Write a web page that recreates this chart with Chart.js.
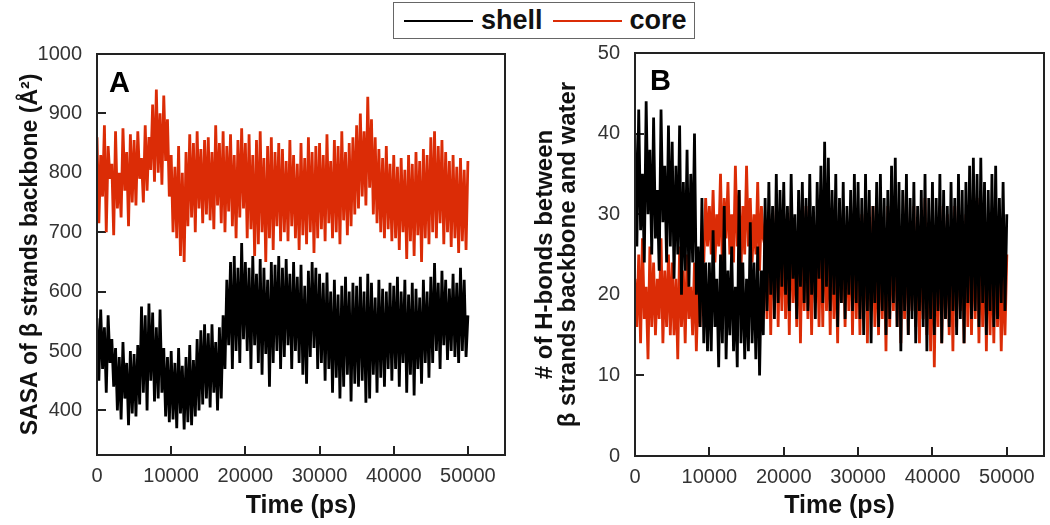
<!DOCTYPE html>
<html>
<head>
<meta charset="utf-8">
<script src="https://cdn.jsdelivr.net/npm/chart.js@4.4.1/dist/chart.umd.min.js"></script>
<style>
  body { margin: 0; background: #fff; font-family: 'Liberation Sans', Arial, sans-serif; }
  #wrap { position: relative; width: 1050px; height: 525px; overflow: hidden; }
  canvas { position: absolute; top: 0; }
  #chartA { left: 0; }
  #chartB { left: 520px; }
  #legend {
    position: absolute; left: 393px; top: 2px; width: 302px; height: 37px;
    border: 1.5px solid #666; box-sizing: border-box; background: #fff;
    display: flex; align-items: center; font-weight: bold; font-size: 27px; color: #111;
  }
  #legend .sw { display: inline-block; width: 69px; height: 0; border-top: 2px solid; margin: 0 8px 0 10px; }
  .panel { position: absolute; font-weight: bold; font-size: 29px; color: #000; line-height: 1; }
</style>
</head>
<body>
<div id="wrap">
  <canvas id="chartA" width="520" height="525"></canvas>
  <canvas id="chartB" width="530" height="525"></canvas>
  <div id="legend">
    <span class="sw" style="border-color:#000"></span><span>shell</span>
    <span class="sw" style="border-color:#db2c06"></span><span>core</span>
  </div>
  <div class="panel" style="left:109px; top:68px;">A</div>
  <div class="panel" style="left:650px; top:66px;">B</div>
</div>
<script>
// sample spacing of the trajectory (ps)
const timeStep = 250;

// x tick labels (both panels)
const timeTicks = [0, 10000, 20000, 30000, 40000, 50000];
// y tick labels
const sasaTicks = [400, 500, 600, 700, 800, 900, 1000];
const hbondTicks = [0, 10, 20, 30, 40, 50];

// panel A : SASA of beta strands backbone
const shellSasa = [
  555,450,570,470,540,430,560,480,520,440,505,400,490,385,515,420,480,375,500,395,
  495,390,510,410,575,430,560,400,580,450,565,415,540,420,570,430,505,390,490,380,
  500,385,480,370,505,395,475,368,490,380,510,375,485,390,520,400,535,410,545,420,
  530,405,545,430,515,400,540,420,560,470,620,510,650,470,660,500,640,480,682,520,
  650,500,640,470,660,510,630,480,655,460,640,495,620,440,650,480,645,500,660,470,
  640,490,655,510,630,470,650,500,625,480,645,460,610,445,635,490,650,505,640,470,
  630,480,615,450,632,470,600,430,620,455,595,420,610,440,625,460,600,415,615,445,
  610,440,625,450,600,413,630,420,615,460,590,430,620,455,605,440,600,470,615,450,
  610,470,625,440,600,480,620,430,595,460,615,425,605,470,590,445,620,480,600,455,
  625,480,648,500,615,470,635,510,620,485,605,500,630,490,615,480,640,500,620,490,
  560
];
const coreSasa = [
  860,715,830,760,880,700,845,790,815,695,870,740,800,725,875,770,835,710,865,750,
  855,745,870,790,825,750,880,770,860,805,915,785,940,800,900,780,930,820,890,760,
  830,700,810,690,845,660,800,650,835,710,865,725,850,700,870,740,840,715,855,730,
  860,720,835,705,880,745,850,715,870,700,845,735,865,710,830,690,855,725,875,740,
  850,690,865,705,830,660,855,680,870,700,825,650,845,690,860,670,835,710,850,685,
  840,700,820,685,855,710,830,690,815,670,850,695,825,680,860,700,835,665,845,690,
  850,705,830,685,865,715,820,690,855,700,845,680,870,720,835,695,850,710,860,730,
  880,740,900,760,870,745,928,775,890,730,860,715,840,700,825,690,845,705,815,685,
  830,690,810,670,825,700,805,655,830,685,815,660,835,695,820,650,840,690,830,680,
  860,700,870,690,845,715,855,680,835,700,820,675,830,690,810,665,825,685,805,670,
  820
];

// panel B : H-bonds between beta strands backbone and water
const shellHbond = [
  40,26,43,28,35,24,44,30,38,25,42,27,33,23,43,29,36,24,41,26,
  39,22,36,25,41,20,34,23,38,21,35,24,40,20,26,16,32,14,24,13,
  24,13,28,16,22,11,25,14,31,12,23,15,26,13,21,11,33,14,24,12,
  22,13,29,14,24,12,26,10,23,15,32,18,34,20,31,17,35,19,33,21,
  34,20,31,18,35,22,30,17,33,21,34,19,32,18,35,20,31,17,34,22,
  36,19,39,21,37,18,33,20,35,16,32,19,34,17,31,20,33,18,35,19,
  34,17,32,15,35,18,33,14,31,19,34,16,35,18,32,15,33,17,36,19,
  37,16,34,13,33,18,35,15,32,17,34,14,31,18,33,16,35,13,32,17,
  34,15,32,18,35,14,33,17,31,16,34,18,32,15,35,17,33,14,34,19,
  36,17,37,18,35,16,37,19,34,15,33,18,35,16,36,17,32,19,34,18,
  30
];
const coreHbond = [
  22,16,25,14,27,17,21,12,26,16,24,15,22,17,27,14,23,16,25,15,
  24,15,22,12,26,16,23,14,25,17,21,15,24,13,22,16,27,24,32,26,
  31,25,33,24,30,26,35,23,32,27,34,25,30,24,36,26,33,23,31,25,
  36,26,32,24,30,25,34,23,31,27,26,17,30,15,28,19,31,16,29,18,
  30,17,28,15,31,19,27,16,30,14,29,18,31,17,28,15,30,19,27,16,
  29,16,31,18,28,15,30,17,26,14,31,19,29,16,28,18,30,15,31,17,
  28,15,30,17,32,14,29,18,31,16,27,15,30,17,28,13,31,16,29,18,
  31,16,28,14,30,17,33,15,29,18,31,16,28,14,30,17,32,15,29,13,
  30,11,28,16,31,14,29,17,30,15,27,13,31,16,29,18,28,14,30,16,
  31,15,29,17,32,14,28,16,30,13,29,15,27,14,28,16,26,13,24,15,
  25
];

Chart.defaults.font.family = "'Liberation Sans', Arial, sans-serif";
Chart.defaults.color = '#333';

function toPoints(vals) {
  return vals.map((v, i) => ({ x: i * timeStep, y: v }));
}

// box around the plot and inward tick marks
const framePlugin = {
  id: 'frame',
  beforeDatasetsDraw(chart) {
    const { ctx, chartArea: a, scales: { x, y } } = chart;
    ctx.save();
    ctx.strokeStyle = '#222';
    ctx.lineWidth = 2;
    ctx.beginPath();
    x.ticks.forEach(t => {
      const px = Math.round(x.getPixelForValue(t.value));
      ctx.moveTo(px, a.bottom); ctx.lineTo(px, a.bottom - 9);
    });
    y.ticks.forEach(t => {
      const py = Math.round(y.getPixelForValue(t.value));
      ctx.moveTo(a.left, py); ctx.lineTo(a.left + 9, py);
    });
    ctx.stroke();
    ctx.restore();
  },
  afterDatasetsDraw(chart) {
    const { ctx, chartArea: a } = chart;
    ctx.save();
    ctx.strokeStyle = '#222';
    ctx.lineWidth = 2;
    ctx.strokeRect(a.left, a.top, a.right - a.left, a.bottom - a.top);
    ctx.restore();
  }
};

const plain = v => String(v);

function makeChart(el, shellVals, coreVals, yMin, yMax, yTicks, yTitle, opts) {
  const line = { borderWidth: 2.8, pointRadius: 0, borderJoinStyle: 'bevel', tension: 0 };
  return new Chart(el, {
    type: 'line',
    data: {
      datasets: [
        { label: 'shell', data: toPoints(shellVals), borderColor: '#000', ...line },
        { label: 'core', data: toPoints(coreVals), borderColor: '#db2c06', ...line }
      ]
    },
    options: {
      responsive: false,
      animation: false,
      devicePixelRatio: 1,
      layout: { padding: opts.padding },
      plugins: { legend: { display: false }, tooltip: { enabled: false } },
      scales: {
        x: {
          type: 'linear', min: 0, max: 55000,
          afterBuildTicks: s => { s.ticks = timeTicks.map(v => ({ value: v })); },
          afterFit: s => { s.height = opts.xHeight; },
          grid: { display: false, drawTicks: false },
          border: { display: false },
          ticks: { font: { size: 20 }, padding: 9, maxRotation: 0, autoSkip: false, callback: plain },
          title: { display: true, text: 'Time (ps)', color: '#111',
                   font: { size: 25, weight: 'bold' }, padding: { top: 0, bottom: 4 } }
        },
        y: {
          type: 'linear', min: yMin, max: yMax,
          afterBuildTicks: s => { s.ticks = yTicks.map(v => ({ value: v })); },
          afterFit: s => { s.width = opts.yWidth; },
          grid: { display: false, drawTicks: false },
          border: { display: false },
          ticks: { font: { size: 20 }, padding: 15, callback: plain },
          title: { display: true, text: yTitle, color: '#111',
                   font: opts.yTitleFont, padding: { top: opts.yTitlePad, bottom: 0 } }
        }
      }
    },
    plugins: [framePlugin]
  });
}

makeChart(document.getElementById('chartA'), shellSasa, coreSasa, 325, 1000, sasaTicks,
  'SASA of β strands backbone (Å²)',
  { padding: { top: 54, right: 15, bottom: 0, left: 0 }, xHeight: 70, yWidth: 97,
    yTitleFont: { size: 23, weight: 'bold' }, yTitlePad: 17 });

makeChart(document.getElementById('chartB'), shellHbond, coreHbond, 0, 50, hbondTicks,
  ['# of H-bonds between', 'β strands backbone and water'],
  { padding: { top: 53, right: 6, bottom: 0, left: 0 }, xHeight: 69, yWidth: 115,
    yTitleFont: { size: 24, weight: 'bold', lineHeight: 0.95 }, yTitlePad: 14 });
</script>
</body>
</html>
